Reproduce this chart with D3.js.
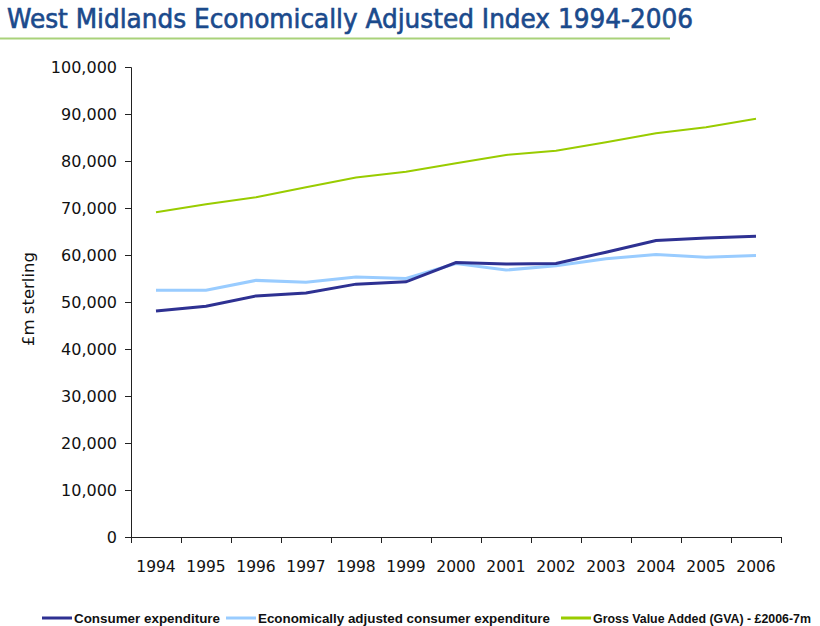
<!DOCTYPE html>
<html>
<head>
<meta charset="utf-8">
<script src="https://cdn.jsdelivr.net/npm/d3@7"></script>
<style>
  body { margin: 0; background: #fff; }
  .tick text { font-family: "DejaVu Sans", sans-serif; fill: #111; }
  .legend text { font-family: "Liberation Sans", Arial, sans-serif; font-weight: bold; font-size: 12px; fill: #111; }
</style>
</head>
<body>
<svg id="main-chart"></svg>
<script>
const years = ['1994','1995','1996','1997','1998','1999','2000','2001','2002','2003','2004','2005','2006'];
const consumer = [48100, 49100, 51300, 51900, 53800, 54300, 58400, 58100, 58200, 60600, 63100, 63600, 64000];
const adjusted = [52500, 52500, 54600, 54200, 55300, 55000, 58200, 56800, 57700, 59200, 60100, 59500, 59900];
const gva = [69100, 70800, 72300, 74400, 76500, 77700, 79500, 81300, 82200, 84000, 85900, 87200, 89000];
const yTicks = [0, 10000, 20000, 30000, 40000, 50000, 60000, 70000, 80000, 90000, 100000];
const seriesNames = ['Consumer expenditure', 'Economically adjusted consumer expenditure', 'Gross Value Added (GVA) - £2006-7m'];
const seriesColors = ['#2e3192', '#99ccff', '#99cc00'];

const W = 820, H = 626;
const margin = { top: 67, right: 39, bottom: 89, left: 131 };
const width = W - margin.left - margin.right;
const height = H - margin.top - margin.bottom;

const svg = d3.select('#main-chart').attr('width', W).attr('height', H);

// title + underline
svg.append('text')
    .attr('x', 7).attr('y', 28)
    .attr('font-family', '"DejaVu Sans Condensed", "DejaVu Sans", sans-serif')
    .attr('font-size', 27)
    .attr('fill', '#1b4a8c')
    .attr('stroke', '#1b4a8c').attr('stroke-width', 0.6)
    .attr('textLength', 686).attr('lengthAdjust', 'spacingAndGlyphs')
    .text('West Midlands Economically Adjusted Index 1994-2006');
svg.append('line')
    .attr('x1', 0).attr('x2', 670).attr('y1', 38.5).attr('y2', 38.5)
    .attr('stroke', '#a9d27a').attr('stroke-width', 2);

const chart = svg.append('g').attr('transform', `translate(${margin.left},${margin.top})`);

const x = d3.scaleBand().domain(years).range([0, width]);
const y = d3.scaleLinear().domain([0, 100000]).range([height, 0]);

const yAxis = chart.append('g')
    .call(d3.axisLeft(y).tickValues(yTicks).tickSize(6).tickPadding(8).tickFormat(d3.format(',')));
yAxis.select('.domain').attr('stroke', '#222').attr('d', `M-6,0.5H0.5V${height}`);
yAxis.selectAll('.tick line').attr('stroke', '#222');
yAxis.selectAll('.tick text').attr('font-size', 16);

const xAxis = chart.append('g')
    .attr('transform', `translate(0,${height})`)
    .call(d3.axisBottom(x).tickSize(0).tickPadding(24));
xAxis.select('.domain').attr('stroke', '#222').attr('d', `M0,0.5H${width}`);
xAxis.selectAll('.tick text').attr('font-size', 15.5);
// ticks on band boundaries
xAxis.selectAll('.bound')
    .data(years.concat(['end']))
    .enter().append('line')
    .attr('x1', (d, i) => i * x.step() + 0.5)
    .attr('x2', (d, i) => i * x.step() + 0.5)
    .attr('y1', 0).attr('y2', 6)
    .attr('stroke', '#222');

svg.append('text')
    .attr('transform', `translate(34,${margin.top + height / 2 - 3}) rotate(-90)`)
    .attr('text-anchor', 'middle')
    .attr('font-family', '"DejaVu Sans", sans-serif')
    .attr('font-size', 16.5)
    .attr('fill', '#111')
    .text('£m sterling');

const line = d3.line()
    .x((d, i) => x(years[i]) + x.bandwidth() / 2)
    .y(d => y(d));

const series = [consumer, adjusted, gva];
const widths = [3, 3, 2];
// draw GVA, adjusted, then consumer on top
[2, 1, 0].forEach(k => {
  chart.append('path')
      .datum(series[k])
      .attr('fill', 'none')
      .attr('stroke', seriesColors[k])
      .attr('stroke-width', widths[k])
      .attr('d', line);
});

// legend
const legendX = [42, 226, 561];
const legendW = [146, 292, 218];
const legend = svg.append('g').attr('class', 'legend').attr('transform', 'translate(0,618)');
seriesNames.forEach((name, i) => {
  legend.append('line')
      .attr('x1', legendX[i]).attr('x2', legendX[i] + 30)
      .attr('y1', 0).attr('y2', 0)
      .attr('stroke', seriesColors[i]).attr('stroke-width', 3);
  legend.append('text')
      .attr('x', legendX[i] + 32).attr('y', 4.5)
      .attr('textLength', legendW[i]).attr('lengthAdjust', 'spacingAndGlyphs')
      .text(name);
});
</script>
</body>
</html>
